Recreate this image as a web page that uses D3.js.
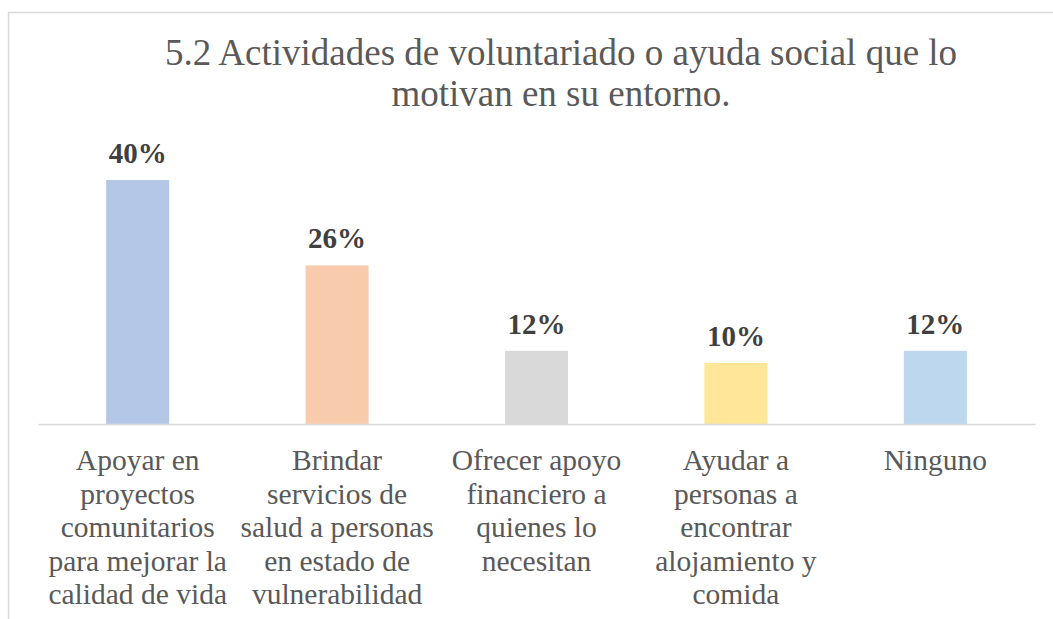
<!DOCTYPE html>
<html>
<head>
<meta charset="utf-8">
<script src="https://cdn.jsdelivr.net/npm/d3@7"></script>
<style>
  html, body { margin: 0; padding: 0; background: #fff; }
  svg { display: block; font-family: "Liberation Serif", "Times New Roman", serif; }
</style>
</head>
<body>
<svg width="1053" height="619"></svg>
<script>
// datos del grafico
var titleLines = ['5.2 Actividades de voluntariado o ayuda social que lo', 'motivan en su entorno.'];
var categories = [
    ['Apoyar en', 'proyectos', 'comunitarios', 'para mejorar la', 'calidad de vida'],
    ['Brindar', 'servicios de', 'salud a personas', 'en estado de', 'vulnerabilidad'],
    ['Ofrecer apoyo', 'financiero a', 'quienes lo', 'necesitan'],
    ['Ayudar a', 'personas a', 'encontrar', 'alojamiento y', 'comida'],
    ['Ninguno']
];
var values = [0.40, 0.26, 0.12, 0.10, 0.12];
var barColors = ['#B4C7E7', '#F8CBAD', '#D9D9D9', '#FFE699', '#BDD7EE'];

(function () {
    var svg = d3.select('svg');
    var serif = '"Liberation Serif", "Times New Roman", serif';
    var axisY = 424;
    var left = 38;
    var right = 1035;

    // marco del grafico
    svg.append('rect')
        .attr('x', 8.5)
        .attr('y', 12.5)
        .attr('width', 1060)
        .attr('height', 620)
        .attr('fill', 'none')
        .attr('stroke', '#D9D9D9')
        .attr('stroke-width', 1.5);

    // titulo
    svg.append('text')
        .attr('x', 561)
        .attr('text-anchor', 'middle')
        .style('font-size', '37px')
        .style('fill', '#595959')
        .selectAll('tspan')
        .data(titleLines)
        .enter()
        .append('tspan')
        .attr('x', 561)
        .attr('y', function(d, i) { return 65 + i * 41; })
        .text(function(d) { return d; });

    var x = d3.scaleBand()
        .domain(d3.range(values.length))
        .range([left, right])
        .paddingInner(0.684)
        .paddingOuter(0.342);

    var y = d3.scaleLinear()
        .domain([0, 0.45])
        .range([axisY, axisY - 0.45 * 610]);

    var fmt = d3.format('.0%');

    // barras
    svg.append('g')
        .selectAll('rect')
        .data(values)
        .enter()
        .append('rect')
        .attr('x', function(d, i) { return x(i); })
        .attr('y', function(d) { return y(d); })
        .attr('width', x.bandwidth())
        .attr('height', function(d) { return axisY - y(d); })
        .attr('fill', function(d, i) { return barColors[i]; });

    // eje x
    var axis = svg.append('g')
        .attr('transform', 'translate(0,' + axisY + ')')
        .call(d3.axisBottom(x).tickSize(0).tickFormat(''))
        .attr('font-family', serif);
    axis.select('.domain')
        .attr('stroke', '#D9D9D9')
        .attr('stroke-width', 1.5);

    // etiquetas de categoria
    axis.selectAll('.tick text').remove();
    axis.selectAll('.tick')
        .append('text')
        .attr('text-anchor', 'middle')
        .style('font-family', serif)
        .style('font-size', '29.5px')
        .style('fill', '#595959')
        .selectAll('tspan')
        .data(function(i) { return categories[i]; })
        .enter()
        .append('tspan')
        .attr('x', 0)
        .attr('y', function(d, j) { return 46 + j * 33.5; })
        .text(function(d) { return d; });

    // etiquetas de valor
    svg.append('g')
        .selectAll('text')
        .data(values)
        .enter()
        .append('text')
        .attr('x', function(d, i) { return x(i) + x.bandwidth() / 2; })
        .attr('y', function(d) { return y(d) - 17; })
        .attr('text-anchor', 'middle')
        .style('font-size', '29px')
        .style('font-weight', 'bold')
        .style('fill', '#404040')
        .text(function(d) { return fmt(d); });
}());
</script>
</body>
</html>
